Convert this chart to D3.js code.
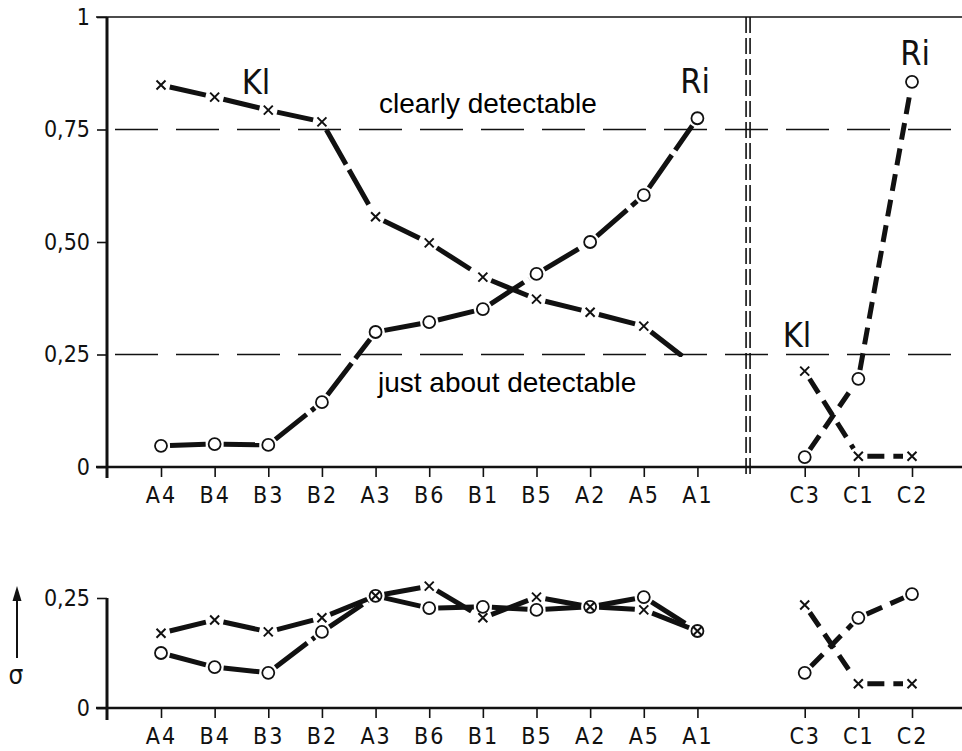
<!DOCTYPE html>
<html>
<head>
<meta charset="utf-8">
<script src="https://cdn.jsdelivr.net/npm/d3@7"></script>
<style>
  body { margin: 0; background: #fff; }
  svg { display: block; }
  .tick text { font-family: "DejaVu Sans Condensed", "DejaVu Sans", sans-serif; font-size: 23px; fill: #111; }
  .tick line { stroke: #111; stroke-width: 1.6; }
  .lbl { font-family: "DejaVu Sans Condensed", "DejaVu Sans", sans-serif; font-size: 34px; fill: #111; }
  .note { font-family: "Liberation Sans", Arial, sans-serif; font-size: 28px; fill: #000; }
</style>
</head>
<body>
<div id="chart"></div>
<script>
// categories (left block and right block)
var cats = ["A4", "B4", "B3", "B2", "A3", "B6", "B1", "B5", "A2", "A5", "A1"];
var catsC = ["C3", "C1", "C2"];

// mean ratings
var klMean = [0.849, 0.822, 0.793, 0.767, 0.556, 0.498, 0.422, 0.373, 0.344, 0.313, 0.22];
var riMean = [0.047, 0.051, 0.049, 0.144, 0.300, 0.322, 0.351, 0.429, 0.500, 0.604, 0.775];
var klMeanC = [0.213, 0.024, 0.024];
var riMeanC = [0.022, 0.196, 0.856];

// standard deviations (lower panel)
var klSd = [0.170, 0.200, 0.173, 0.205, 0.255, 0.277, 0.205, 0.252, 0.230, 0.223, 0.175];
var riSd = [0.125, 0.093, 0.080, 0.173, 0.255, 0.227, 0.230, 0.223, 0.230, 0.252, 0.175];
var klSdC = [0.234, 0.055, 0.055];
var riSdC = [0.080, 0.205, 0.259];

var meanTicks = [0, 0.25, 0.5, 0.75, 1];
var sdTicks = [0, 0.25];

function commaFmt(d) {
    "use strict";
    if (d === 0) { return "0"; }
    if (d === 1) { return "1"; }
    return d3.format(".2f")(d).replace(".", ",");
}

var width = 962, height = 751;
var svg = d3.select("#chart").append("svg")
    .attr("width", width)
    .attr("height", height);

var x = d3.scalePoint()
    .domain(cats.concat(["gap"], catsC))
    .range([161, 912]);
var yTop = d3.scaleLinear().domain([0, 1]).range([467, 17]);
var yBot = d3.scaleLinear().domain([0, 0.25]).range([708, 598]);

function zip(keys, vals) {
    "use strict";
    return keys.map(function(k, i) { return {cat: k, v: vals[i]}; });
}

// draw a polyline as separate segments, trimmed near markers
function drawSeries(g, pts, y, dash) {
    "use strict";
    var gap = 9;
    for (var i = 0; i < pts.length - 1; i++) {
        var x0 = x(pts[i].cat), y0 = y(pts[i].v);
        var x1 = x(pts[i + 1].cat), y1 = y(pts[i + 1].v);
        var len = Math.hypot(x1 - x0, y1 - y0);
        if (len <= 2 * gap) { continue; }
        var ux = (x1 - x0) / len, uy = (y1 - y0) / len;
        g.append("line")
            .attr("x1", x0 + ux * gap).attr("y1", y0 + uy * gap)
            .attr("x2", x1 - ux * gap).attr("y2", y1 - uy * gap)
            .attr("stroke", "#111")
            .attr("stroke-width", 5)
            .attr("stroke-dasharray", dash);
    }
}

function drawCircles(g, pts, y) {
    "use strict";
    g.selectAll(null).data(pts).enter().append("circle")
        .attr("cx", function(d) { return x(d.cat); })
        .attr("cy", function(d) { return y(d.v); })
        .attr("r", 6)
        .attr("fill", "#fff")
        .attr("stroke", "#111")
        .attr("stroke-width", 1.8);
}

function drawCrosses(g, pts, y) {
    "use strict";
    var s = 4.5;
    g.selectAll(null).data(pts).enter().append("path")
        .attr("d", function(d) {
            var cx = x(d.cat), cy = y(d.v);
            return "M" + (cx - s) + "," + (cy - s) + "L" + (cx + s) + "," + (cy + s) +
                "M" + (cx - s) + "," + (cy + s) + "L" + (cx + s) + "," + (cy - s);
        })
        .attr("stroke", "#111")
        .attr("stroke-width", 2)
        .attr("fill", "none");
}

function xAxis(y0) {
    "use strict";
    var g = svg.append("g")
        .attr("transform", "translate(0," + y0 + ")")
        .call(d3.axisBottom(x).tickValues(cats.concat(catsC)).tickSize(10).tickPadding(10));
    g.select(".domain").remove();
    g.selectAll(".tick text").attr("letter-spacing", "2px");
    svg.append("line")
        .attr("x1", 96).attr("x2", width).attr("y1", y0).attr("y2", y0)
        .attr("stroke", "#111").attr("stroke-width", 2.5);
}

function yAxis(scale, ticks, yTopEnd, yBottomEnd) {
    "use strict";
    var g = svg.append("g")
        .attr("transform", "translate(107,0)")
        .call(d3.axisLeft(scale).tickValues(ticks).tickFormat(commaFmt).tickSize(10).tickPadding(7));
    g.select(".domain").remove();
    svg.append("line")
        .attr("x1", 107).attr("x2", 107).attr("y1", yTopEnd).attr("y2", yBottomEnd)
        .attr("stroke", "#111").attr("stroke-width", 3);
}

// ---------- upper panel ----------
svg.append("line")
    .attr("x1", 96).attr("x2", width).attr("y1", yTop(1)).attr("y2", yTop(1))
    .attr("stroke", "#111").attr("stroke-width", 1.6);

[0.75, 0.25].forEach(function(v) {
    svg.append("line")
        .attr("x1", 115).attr("x2", width).attr("y1", yTop(v)).attr("y2", yTop(v))
        .attr("stroke", "#111").attr("stroke-width", 1.5)
        .attr("stroke-dasharray", "43,18");
});

// double dashed divider between blocks
[-2, 2].forEach(function(off) {
    svg.append("line")
        .attr("x1", x("gap") - 3 + off).attr("x2", x("gap") - 3 + off)
        .attr("y1", yTop(1)).attr("y2", 478)
        .attr("stroke", "#111").attr("stroke-width", 1.6)
        .attr("stroke-dasharray", "16,5");
});

var topG = svg.append("g");
drawSeries(topG, zip(cats, klMean), yTop, "40,6");
drawSeries(topG, zip(cats, riMean), yTop, "40,6");
drawSeries(topG, zip(catsC, klMeanC), yTop, "17,9");
drawSeries(topG, zip(catsC, riMeanC), yTop, "17,9");
drawCrosses(topG, zip(cats, klMean), yTop);
drawCrosses(topG, zip(catsC, klMeanC), yTop);
drawCircles(topG, zip(cats, riMean), yTop);
drawCircles(topG, zip(catsC, riMeanC), yTop);

// annotation boxes (white background as in the original)
svg.append("rect").attr("x", 372).attr("y", 357).attr("width", 345).attr("height", 55).attr("fill", "#fff");
svg.append("text").attr("class", "note").attr("x", 379).attr("y", 113).text("clearly detectable");
svg.append("text").attr("class", "note").attr("x", 378).attr("y", 392).text("just about detectable");

svg.append("text").attr("class", "lbl").attr("x", 256).attr("y", 94).attr("text-anchor", "middle").text("Kl");
svg.append("text").attr("class", "lbl").attr("x", 695).attr("y", 93).attr("text-anchor", "middle").text("Ri");
svg.append("text").attr("class", "lbl").attr("x", 915).attr("y", 65).attr("text-anchor", "middle").text("Ri");
svg.append("text").attr("class", "lbl").attr("x", 797).attr("y", 347).attr("text-anchor", "middle").text("Kl");

yAxis(yTop, meanTicks, yTop(1), 478);
xAxis(yTop(0));

// ---------- lower panel ----------
var botG = svg.append("g");
drawSeries(botG, zip(cats, klSd), yBot, "40,6");
drawSeries(botG, zip(cats, riSd), yBot, "40,6");
drawSeries(botG, zip(catsC, klSdC), yBot, "17,9");
drawSeries(botG, zip(catsC, riSdC), yBot, "17,9");
drawCircles(botG, zip(cats, riSd), yBot);
drawCircles(botG, zip(catsC, riSdC), yBot);
drawCrosses(botG, zip(cats, klSd), yBot);
drawCrosses(botG, zip(catsC, klSdC), yBot);

yAxis(yBot, sdTicks, yBot(0.25), 720);
xAxis(yBot(0));

// sigma label with arrow
svg.append("line")
    .attr("x1", 17).attr("x2", 17).attr("y1", 658).attr("y2", 598)
    .attr("stroke", "#111").attr("stroke-width", 2);
svg.append("path")
    .attr("d", "M17,586L12.5,601L21.5,601Z")
    .attr("fill", "#111");
svg.append("text").attr("class", "lbl").attr("x", 16).attr("y", 684)
    .attr("text-anchor", "middle").style("font-size", "26px").text("σ");
</script>
</body>
</html>
